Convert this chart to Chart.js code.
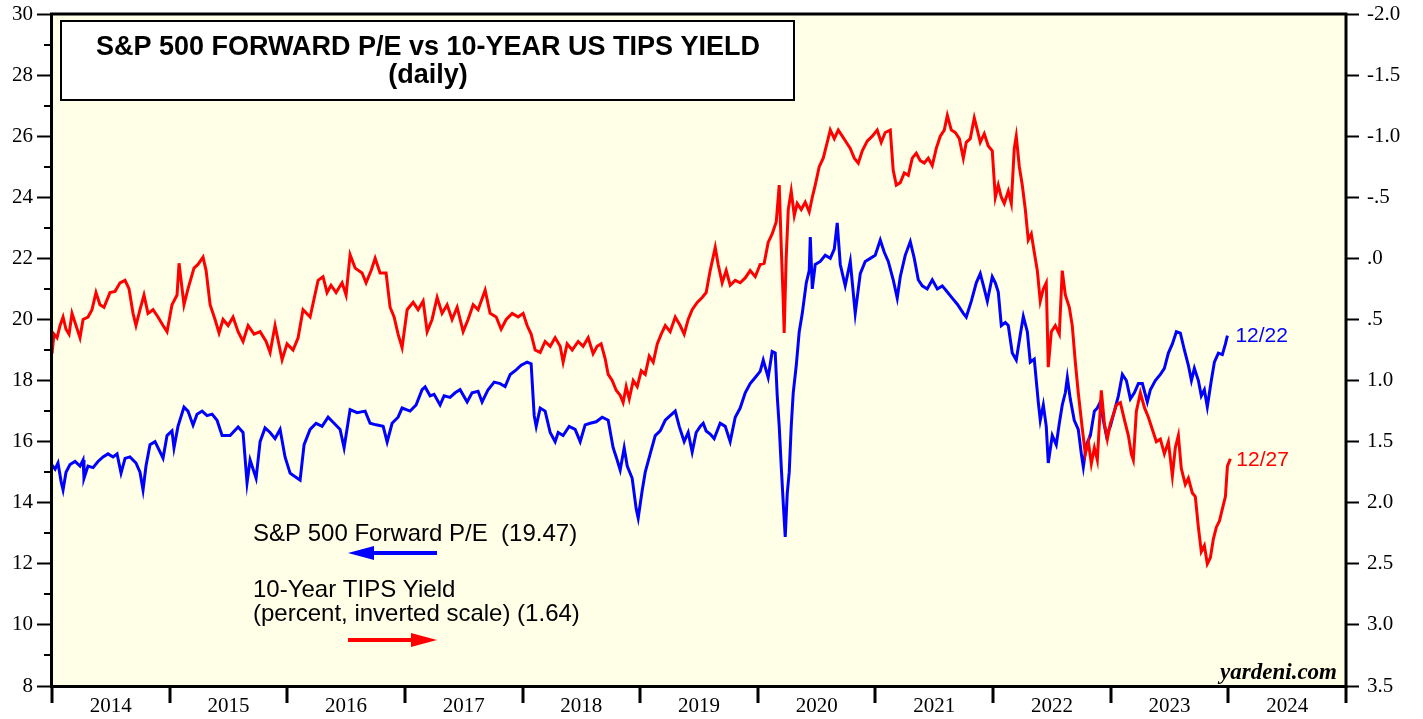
<!DOCTYPE html>
<html>
<head>
<meta charset="utf-8">
<script src="https://cdn.jsdelivr.net/npm/chart.js@4.4.1/dist/chart.umd.min.js"></script>
<style>
  html, body { margin: 0; padding: 0; background: #fff; }
  #wrap { width: 1423px; height: 719px; position: relative; }
</style>
</head>
<body>
<div id="wrap"><canvas id="chart_pe"></canvas></div>
<script>
// S&P 500 forward P/E (left axis), decimal years
var peYears = [
	2014.000, 2014.026, 2014.051, 2014.077, 2014.094, 2014.119, 2014.153, 2014.196, 2014.238, 2014.264,
	2014.272, 2014.306, 2014.349, 2014.391, 2014.434, 2014.476, 2014.519, 2014.553, 2014.587, 2014.621,
	2014.663, 2014.714, 2014.748, 2014.774, 2014.799, 2014.833, 2014.876, 2014.944, 2014.978, 2015.020,
	2015.037, 2015.071, 2015.122, 2015.156, 2015.199, 2015.233, 2015.276, 2015.318, 2015.361, 2015.403,
	2015.446, 2015.514, 2015.582, 2015.624, 2015.658, 2015.684, 2015.735, 2015.769, 2015.811, 2015.854,
	2015.896, 2015.939, 2015.981, 2016.024, 2016.049, 2016.109, 2016.143, 2016.194, 2016.245, 2016.296,
	2016.347, 2016.398, 2016.449, 2016.483, 2016.534, 2016.594, 2016.662, 2016.704, 2016.755, 2016.815,
	2016.849, 2016.891, 2016.942, 2016.976, 2017.044, 2017.095, 2017.146, 2017.172, 2017.214, 2017.248,
	2017.299, 2017.333, 2017.384, 2017.427, 2017.469, 2017.529, 2017.571, 2017.622, 2017.656, 2017.707,
	2017.759, 2017.810, 2017.852, 2017.895, 2017.946, 2017.988, 2018.039, 2018.073, 2018.099, 2018.116,
	2018.150, 2018.192, 2018.235, 2018.277, 2018.303, 2018.345, 2018.396, 2018.447, 2018.490, 2018.532,
	2018.575, 2018.626, 2018.677, 2018.728, 2018.770, 2018.796, 2018.830, 2018.864, 2018.890, 2018.932,
	2018.966, 2018.983, 2019.017, 2019.043, 2019.085, 2019.128, 2019.170, 2019.213, 2019.255, 2019.298,
	2019.332, 2019.374, 2019.408, 2019.442, 2019.476, 2019.510, 2019.536, 2019.561, 2019.595, 2019.629,
	2019.680, 2019.723, 2019.765, 2019.808, 2019.850, 2019.893, 2019.935, 2019.978, 2020.020, 2020.046,
	2020.088, 2020.122, 2020.148, 2020.165, 2020.182, 2020.199, 2020.216, 2020.233, 2020.250, 2020.267,
	2020.284, 2020.301, 2020.327, 2020.352, 2020.378, 2020.412, 2020.437, 2020.446, 2020.463, 2020.488,
	2020.531, 2020.573, 2020.616, 2020.650, 2020.675, 2020.701, 2020.743, 2020.786, 2020.828, 2020.871,
	2020.913, 2020.956, 2020.998, 2021.041, 2021.075, 2021.109, 2021.151, 2021.185, 2021.211, 2021.253,
	2021.296, 2021.330, 2021.364, 2021.398, 2021.440, 2021.483, 2021.526, 2021.568, 2021.611, 2021.653,
	2021.696, 2021.747, 2021.772, 2021.815, 2021.857, 2021.891, 2021.925, 2021.951, 2021.993, 2022.019,
	2022.044, 2022.070, 2022.104, 2022.129, 2022.163, 2022.197, 2022.231, 2022.257, 2022.291, 2022.316,
	2022.350, 2022.384, 2022.401, 2022.427, 2022.452, 2022.469, 2022.503, 2022.537, 2022.563, 2022.588,
	2022.614, 2022.631, 2022.656, 2022.690, 2022.724, 2022.750, 2022.767, 2022.793, 2022.827, 2022.861,
	2022.886, 2022.912, 2022.937, 2022.963, 2022.997, 2023.031, 2023.065, 2023.099, 2023.133, 2023.167,
	2023.201, 2023.235, 2023.269, 2023.311, 2023.337, 2023.379, 2023.422, 2023.456, 2023.490, 2023.524,
	2023.558, 2023.592, 2023.626, 2023.660, 2023.686, 2023.711, 2023.745, 2023.770, 2023.796, 2023.821,
	2023.855, 2023.881, 2023.915, 2023.949, 2023.975, 2023.992
];
var peValues = [
	15.23, 15.1, 15.3, 14.7, 14.42, 15.0, 15.25, 15.35, 15.2, 15.4,
	14.8, 15.2, 15.15, 15.35, 15.5, 15.6, 15.5, 15.6, 14.97, 15.45,
	15.5, 15.3, 15.0, 14.42, 15.2, 15.9, 16.0, 15.46, 16.2, 16.35,
	15.8, 16.5, 17.13, 17.0, 16.54, 16.9, 17.0, 16.85, 16.9, 16.7,
	16.2, 16.2, 16.48, 16.3, 14.65, 15.4, 14.8, 16.0, 16.45, 16.3,
	16.1, 16.4, 15.5, 14.97, 14.9, 14.74, 15.9, 16.4, 16.6, 16.5,
	16.8, 16.6, 16.4, 15.8, 17.05, 16.95, 17.0, 16.6, 16.55, 16.5,
	15.99, 16.6, 16.8, 17.1, 17.0, 17.2, 17.7, 17.79, 17.5, 17.55,
	17.2, 17.5, 17.45, 17.6, 17.7, 17.3, 17.6, 17.65, 17.3, 17.7,
	17.95, 17.9, 17.8, 18.2, 18.35, 18.5, 18.6, 18.55, 16.85, 16.5,
	17.1, 17.0, 16.3, 16.0, 16.3, 16.2, 16.5, 16.4, 16.0, 16.55,
	16.6, 16.65, 16.8, 16.7, 15.8, 15.5, 15.07, 15.8, 15.2, 14.8,
	13.8, 13.5, 14.4, 15.0, 15.6, 16.2, 16.35, 16.7, 16.85, 17.0,
	16.5, 16.0, 16.3, 15.66, 16.3, 16.5, 16.6, 16.35, 16.25, 16.1,
	16.6, 16.5, 16.0, 16.8, 17.1, 17.6, 17.9, 18.1, 18.3, 18.67,
	18.1, 18.95, 18.9, 17.5, 16.5, 15.2, 14.0, 12.88, 14.3, 15.0,
	16.5, 17.6, 18.5, 19.6, 20.2, 21.2, 21.6, 22.7, 21.0, 21.8,
	21.9, 22.1, 22.0, 22.3, 23.16, 21.8, 21.1, 21.9, 20.2, 21.5,
	21.9, 22.0, 22.1, 22.6, 22.2, 21.9, 21.3, 20.7, 21.4, 22.1,
	22.55, 22.0, 21.3, 21.1, 21.0, 21.3, 21.0, 21.1, 20.9, 20.7,
	20.5, 20.2, 20.08, 20.6, 21.2, 21.5, 21.0, 20.6, 21.4, 21.2,
	20.9, 19.8, 19.9, 19.8, 18.9, 18.67, 19.5, 20.1, 19.6, 18.6,
	18.7, 17.3, 16.7, 17.2, 16.5, 15.3, 16.2, 15.9, 16.6, 17.2,
	17.6, 18.1, 17.4, 16.7, 16.4, 15.6, 15.17, 15.9, 16.2, 17.0,
	17.1, 17.3, 16.7, 16.2, 16.5, 17.0, 17.5, 18.2, 18.0, 17.4,
	17.6, 17.9, 17.9, 17.3, 17.7, 18.0, 18.2, 18.4, 18.9, 19.2,
	19.6, 19.55, 19.0, 18.5, 18.0, 18.4, 18.0, 17.5, 17.7, 17.14,
	18.0, 18.6, 18.9, 18.85, 19.2, 19.47
];

// 10-year TIPS yield, percent (right axis, inverted)
var tipsYears = [
	2014.000, 2014.017, 2014.043, 2014.068, 2014.094, 2014.119, 2014.145, 2014.170, 2014.204, 2014.238,
	2014.264, 2014.306, 2014.340, 2014.374, 2014.408, 2014.442, 2014.493, 2014.536, 2014.578, 2014.621,
	2014.655, 2014.689, 2014.714, 2014.748, 2014.782, 2014.816, 2014.859, 2014.901, 2014.944, 2014.978,
	2015.020, 2015.063, 2015.080, 2015.122, 2015.156, 2015.207, 2015.241, 2015.284, 2015.310, 2015.344,
	2015.386, 2015.420, 2015.454, 2015.497, 2015.539, 2015.582, 2015.624, 2015.667, 2015.718, 2015.769,
	2015.820, 2015.854, 2015.896, 2015.956, 2015.998, 2016.049, 2016.092, 2016.134, 2016.194, 2016.262,
	2016.304, 2016.338, 2016.372, 2016.415, 2016.466, 2016.500, 2016.534, 2016.577, 2016.636, 2016.670,
	2016.713, 2016.747, 2016.789, 2016.840, 2016.874, 2016.908, 2016.942, 2016.976, 2017.019, 2017.070,
	2017.112, 2017.155, 2017.189, 2017.231, 2017.274, 2017.316, 2017.359, 2017.401, 2017.444, 2017.495,
	2017.537, 2017.580, 2017.622, 2017.682, 2017.724, 2017.776, 2017.818, 2017.861, 2017.912, 2017.963,
	2018.005, 2018.039, 2018.073, 2018.107, 2018.150, 2018.192, 2018.235, 2018.277, 2018.320, 2018.345,
	2018.379, 2018.422, 2018.473, 2018.515, 2018.558, 2018.600, 2018.634, 2018.668, 2018.702, 2018.728,
	2018.762, 2018.796, 2018.830, 2018.855, 2018.881, 2018.907, 2018.941, 2018.975, 2019.009, 2019.043,
	2019.077, 2019.111, 2019.145, 2019.179, 2019.213, 2019.255, 2019.298, 2019.340, 2019.374, 2019.408,
	2019.442, 2019.485, 2019.527, 2019.561, 2019.595, 2019.638, 2019.663, 2019.697, 2019.731, 2019.765,
	2019.808, 2019.850, 2019.893, 2019.935, 2019.978, 2020.020, 2020.054, 2020.088, 2020.122, 2020.157,
	2020.182, 2020.199, 2020.216, 2020.224, 2020.241, 2020.259, 2020.284, 2020.310, 2020.335, 2020.369,
	2020.403, 2020.437, 2020.463, 2020.488, 2020.522, 2020.556, 2020.590, 2020.616, 2020.650, 2020.684,
	2020.718, 2020.752, 2020.786, 2020.820, 2020.854, 2020.888, 2020.930, 2020.973, 2021.015, 2021.049,
	2021.083, 2021.126, 2021.151, 2021.177, 2021.211, 2021.245, 2021.279, 2021.313, 2021.347, 2021.381,
	2021.415, 2021.449, 2021.483, 2021.517, 2021.551, 2021.585, 2021.611, 2021.645, 2021.679, 2021.713,
	2021.747, 2021.772, 2021.806, 2021.840, 2021.866, 2021.891, 2021.925, 2021.959, 2021.993, 2022.019,
	2022.044, 2022.070, 2022.095, 2022.129, 2022.155, 2022.180, 2022.197, 2022.223, 2022.248, 2022.274,
	2022.299, 2022.325, 2022.350, 2022.376, 2022.401, 2022.427, 2022.452, 2022.469, 2022.495, 2022.529,
	2022.563, 2022.588, 2022.614, 2022.648, 2022.673, 2022.699, 2022.724, 2022.759, 2022.784, 2022.810,
	2022.835, 2022.861, 2022.886, 2022.920, 2022.946, 2022.971, 2022.997, 2023.022, 2023.048, 2023.082,
	2023.116, 2023.150, 2023.175, 2023.192, 2023.218, 2023.252, 2023.286, 2023.320, 2023.354, 2023.388,
	2023.422, 2023.456, 2023.490, 2023.524, 2023.549, 2023.575, 2023.600, 2023.634, 2023.660, 2023.694,
	2023.719, 2023.745, 2023.770, 2023.796, 2023.821, 2023.847, 2023.872, 2023.898, 2023.924, 2023.949,
	2023.975, 2023.992, 2024.017
];
var tipsValues = [
	0.78, 0.62, 0.65, 0.55, 0.48, 0.58, 0.62, 0.45, 0.55, 0.65,
	0.5, 0.48, 0.42, 0.28, 0.38, 0.4, 0.28, 0.27, 0.2, 0.18,
	0.25, 0.45, 0.55, 0.42, 0.3, 0.45, 0.42, 0.48, 0.55, 0.6,
	0.38, 0.3, 0.04, 0.38, 0.25, 0.08, 0.05, -0.01, 0.1, 0.38,
	0.5, 0.61, 0.5, 0.55, 0.48, 0.6, 0.68, 0.55, 0.62, 0.6,
	0.68, 0.77, 0.55, 0.83, 0.7, 0.75, 0.65, 0.42, 0.48, 0.18,
	0.15, 0.28, 0.22, 0.28, 0.2, 0.3, -0.03, 0.08, 0.12, 0.2,
	0.1, 0.0, 0.12, 0.12, 0.4, 0.48, 0.62, 0.73, 0.42, 0.36,
	0.42, 0.35, 0.6, 0.5, 0.32, 0.45, 0.38, 0.5, 0.4, 0.6,
	0.5, 0.38, 0.42, 0.26, 0.45, 0.48, 0.58, 0.5, 0.45, 0.48,
	0.45, 0.55, 0.62, 0.75, 0.77, 0.68, 0.72, 0.65, 0.72, 0.85,
	0.7, 0.75, 0.68, 0.72, 0.65, 0.78, 0.72, 0.7, 0.82, 0.95,
	1.0, 1.08, 1.12, 1.18, 1.05, 1.15, 1.0, 1.05, 0.92, 0.95,
	0.8, 0.85, 0.7, 0.62, 0.55, 0.6, 0.48, 0.55, 0.62, 0.5,
	0.42, 0.36, 0.32, 0.28, 0.1, -0.09, 0.05, 0.2, 0.1, 0.22,
	0.18, 0.2, 0.16, 0.1, 0.15, 0.05, 0.04, -0.13, -0.2, -0.3,
	-0.6, -0.1, 0.35, 0.61, 0.0, -0.4, -0.55, -0.35, -0.45, -0.4,
	-0.46, -0.38, -0.5, -0.6, -0.75, -0.82, -0.95, -1.05, -0.98, -1.05,
	-1.0, -0.95, -0.9, -0.82, -0.78, -0.88, -0.96, -1.0, -1.05, -0.95,
	-1.03, -1.05, -0.72, -0.6, -0.62, -0.7, -0.68, -0.82, -0.86, -0.8,
	-0.78, -0.82, -0.76, -0.9, -1.0, -1.05, -1.17, -1.05, -1.03, -0.98,
	-0.82, -0.95, -0.98, -1.15, -1.05, -0.95, -1.02, -0.92, -0.88, -0.5,
	-0.6, -0.5, -0.45, -0.55, -0.45, -0.9, -1.0, -0.75, -0.6, -0.4,
	-0.15, -0.2, -0.05, 0.1, 0.35, 0.25, 0.2, 0.89, 0.6, 0.55,
	0.62, 0.1, 0.3, 0.4, 0.55, 0.85, 1.1, 1.4, 1.6, 1.5,
	1.68, 1.55, 1.65, 1.08, 1.35, 1.48, 1.35, 1.28, 1.2, 1.18,
	1.32, 1.45, 1.6, 1.65, 1.25, 1.1, 1.22, 1.3, 1.4, 1.5,
	1.48, 1.6, 1.5, 1.78, 1.55, 1.45, 1.72, 1.85, 1.8, 1.92,
	1.95, 2.2, 2.4, 2.35, 2.5, 2.45, 2.3, 2.2, 2.15, 2.05,
	1.95, 1.7, 1.64
];

var yearLabels = [2014, 2015, 2016, 2017, 2018, 2019, 2020, 2021, 2022, 2023, 2024];

var titleLines = ['S&P 500 FORWARD P/E vs 10-YEAR US TIPS YIELD', '(daily)'];
var peLegend = 'S&P 500 Forward P/E  (19.47)';
var tipsLegend = ['10-Year TIPS Yield', '(percent, inverted scale) (1.64)'];
var peEndLabel = '12/22';
var tipsEndLabel = '12/27';

function pairs(xs, ys){
	var out = [];
	for(var i = 0; i < xs.length; i++){
		out.push({x: xs[i], y: ys[i]});
	}
	return out;
}

function tipsTick(v){
	var r = Math.round(v * 10) / 10;
	var a = Math.abs(r);
	var s = a < 1 ? a.toFixed(1).substring(1) : a.toFixed(1);
	return (r < 0 ? '-' : '') + s;
}

// no extra room for the first/last tick labels, the frame sits at fixed pixels
function noPad(scale){
	scale.paddingTop = 0;
	scale.paddingBottom = 0;
	scale.paddingLeft = 0;
	scale.paddingRight = 0;
}

var decor = {
	id: 'decor',
	beforeDraw: function(chart){
		var ctx = chart.ctx, a = chart.chartArea;
		ctx.save();
		ctx.fillStyle = '#ffffff';
		ctx.fillRect(0, 0, chart.width, chart.height);
		ctx.fillStyle = '#FFFEE6';
		ctx.fillRect(a.left, a.top, a.right - a.left, a.bottom - a.top);
		ctx.restore();
	},
	afterDraw: function(chart){
		var ctx = chart.ctx, a = chart.chartArea, s = chart.scales;
		ctx.save();
		ctx.strokeStyle = '#000';

		// minor ticks, left axis
		ctx.lineWidth = 2;
		for(var v = 9; v < 30; v += 2){
			var y = Math.round(s.y.getPixelForValue(v));
			ctx.beginPath(); ctx.moveTo(a.left - 8, y); ctx.lineTo(a.left, y); ctx.stroke();
		}
		// year boundary ticks
		ctx.lineWidth = 3;
		for(var yr = 2014; yr <= 2025; yr++){
			var x = Math.round(s.x.getPixelForValue(yr));
			ctx.beginPath(); ctx.moveTo(x, a.bottom); ctx.lineTo(x, a.bottom + 17); ctx.stroke();
		}
		// frame
		ctx.lineWidth = 3;
		ctx.strokeRect(a.left - 0.5, a.top, a.right - a.left + 0.5, a.bottom - a.top + 0.5);

		// title box
		ctx.fillStyle = '#fff';
		ctx.fillRect(61, 21, 733, 79);
		ctx.lineWidth = 2;
		ctx.strokeRect(61, 21, 733, 79);
		ctx.fillStyle = '#000';
		ctx.textAlign = 'center';
		ctx.textBaseline = 'middle';
		ctx.font = 'bold 27px "Liberation Sans", Arial, sans-serif';
		ctx.fillText(titleLines[0], 428, 48);
		ctx.fillText(titleLines[1], 428, 76);

		// legend texts
		ctx.textAlign = 'left';
		ctx.font = '24px "Liberation Sans", Arial, sans-serif';
		ctx.fillText(peLegend, 253, 534);
		ctx.fillText(tipsLegend[0], 253, 590);
		ctx.fillText(tipsLegend[1], 253, 614);

		// arrows
		ctx.lineWidth = 4;
		ctx.strokeStyle = '#0000FF'; ctx.fillStyle = '#0000FF';
		ctx.beginPath(); ctx.moveTo(437, 553); ctx.lineTo(368, 553); ctx.stroke();
		ctx.beginPath(); ctx.moveTo(348, 553); ctx.lineTo(374, 546); ctx.lineTo(374, 560); ctx.closePath(); ctx.fill();
		ctx.strokeStyle = '#FF0000'; ctx.fillStyle = '#FF0000';
		ctx.beginPath(); ctx.moveTo(348, 640); ctx.lineTo(417, 640); ctx.stroke();
		ctx.beginPath(); ctx.moveTo(437, 640); ctx.lineTo(411, 633); ctx.lineTo(411, 647); ctx.closePath(); ctx.fill();

		// end labels
		ctx.font = '21px "Liberation Sans", Arial, sans-serif';
		ctx.textBaseline = 'middle';
		var n = peYears.length - 1;
		ctx.fillStyle = '#0000FF';
		ctx.fillText(peEndLabel, s.x.getPixelForValue(peYears[n]) + 8, s.y.getPixelForValue(peValues[n]) + 1);
		var m = tipsYears.length - 1;
		ctx.fillStyle = '#FF0000';
		ctx.fillText(tipsEndLabel, s.x.getPixelForValue(tipsYears[m]) + 6, s.y2.getPixelForValue(tipsValues[m]) + 1);

		// source
		ctx.fillStyle = '#000';
		ctx.textAlign = 'right';
		ctx.font = 'italic bold 23px "Liberation Serif", "Times New Roman", serif';
		ctx.fillText('yardeni.com', 1337, 673);
		ctx.restore();
	}
};

var ctx_pe = document.getElementById('chart_pe').getContext('2d');

var chart_pe = new Chart(ctx_pe, {
	type: 'line',
	data: {
		datasets: [
		{
			label: '10-Year TIPS Yield',
			data: pairs(tipsYears, tipsValues),
			yAxisID: 'y2',
			borderColor: '#FF0000',
			borderWidth: 3,
			pointRadius: 0,
			fill: false,
			tension: 0,
		},
		{
			label: 'S&P 500 Forward P/E',
			data: pairs(peYears, peValues),
			yAxisID: 'y',
			borderColor: '#0000FF',
			borderWidth: 3,
			pointRadius: 0,
			fill: false,
			tension: 0,
		}]
	},
	options: {
		responsive: true,
		maintainAspectRatio: false,
		animation: false,
		layout: { padding: { top: 14, left: 0, right: 0, bottom: 0 } },
		plugins: {
			legend: { display: false },
			tooltip: { enabled: false },
			title: { display: false }
		},
		scales: {
			x: {
				type: 'linear',
				position: 'bottom',
				min: 2014,
				max: 2025,
				afterBuildTicks: function(scale){
					scale.ticks = yearLabels.map(function(y){ return {value: y + 0.5}; });
				},
				afterFit: function(scale){ scale.height = 33; noPad(scale); },
				ticks: {
					autoSkip: false,
					maxRotation: 0,
					padding: 3,
					color: '#000',
					font: { family: '"Liberation Serif", "Times New Roman", serif', size: 21 },
					callback: function(v){ return String(Math.floor(v)); }
				},
				grid: { display: true, drawOnChartArea: false, tickLength: 5, tickColor: 'transparent' },
				border: { display: false }
			},
			y: {
				type: 'linear',
				position: 'left',
				min: 8,
				max: 30,
				afterFit: function(scale){ scale.width = 52; noPad(scale); },
				ticks: {
					stepSize: 1,
					padding: 4,
					color: '#000',
					font: { family: '"Liberation Serif", "Times New Roman", serif', size: 21 },
					callback: function(v){ return v % 2 === 0 ? String(v) : ''; }
				},
				grid: {
					display: true,
					drawOnChartArea: false,
					tickLength: 15,
					tickWidth: 2,
					tickColor: function(c){ return c.tick && c.tick.value % 2 === 0 ? '#000' : 'transparent'; }
				},
				border: { display: false }
			},
			y2: {
				type: 'linear',
				position: 'right',
				reverse: true,
				min: -2,
				max: 3.5,
				afterFit: function(scale){ scale.width = 77; noPad(scale); },
				ticks: {
					stepSize: 0.5,
					padding: 8,
					color: '#000',
					font: { family: '"Liberation Serif", "Times New Roman", serif', size: 21 },
					callback: function(v){ return tipsTick(v); }
				},
				grid: { display: true, drawOnChartArea: false, tickLength: 13, tickWidth: 2, tickColor: '#000' },
				border: { display: false }
			}
		}
	},
	plugins: [decor]
});
</script>
</body>
</html>
